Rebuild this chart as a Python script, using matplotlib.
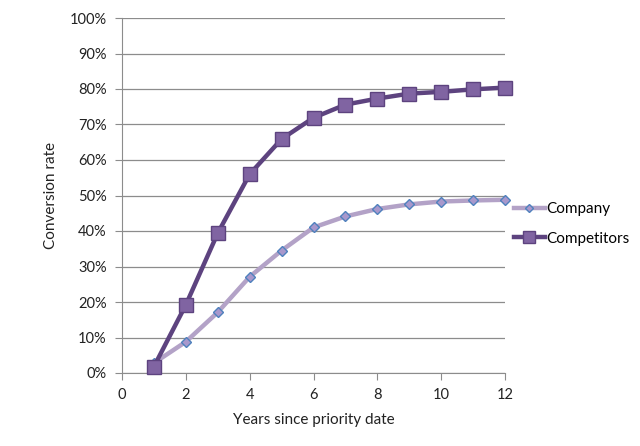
import numpy as np
import matplotlib.pyplot as plt
from matplotlib.ticker import PercentFormatter

plt.rcParams['font.family'] = ['Lato', 'DejaVu Sans']

years = [1, 2, 3, 4, 5, 6, 7, 8, 9, 10, 11, 12]
company = [2.8, 8.8, 17.1, 27.1, 34.5, 41.0, 44.1, 46.2, 47.5, 48.3, 48.6, 48.8]
competitors = [1.8, 19.2, 39.4, 56.0, 65.9, 71.9, 75.6, 77.3, 78.7, 79.2, 79.9, 80.4]

fig = plt.figure(figsize=(6.4, 4.46), dpi=100)
ax = fig.add_axes([122/640, 1-373/446, (505-122)/640, (373-18)/446])

ax.plot(years, company, color='#b3a2c7', lw=3.2, marker='D', ms=5.5,
        mfc='#a898cc', mec='#4f81bd', mew=1.0, label='Company', zorder=3,
        clip_on=False)
ax.plot(years, competitors, color='#5d437f', lw=3.2, marker='s', ms=10,
        mfc='#8064a2', mec='#5d437f', mew=1.0, label='Competitors', zorder=4,
        clip_on=False)

ax.set_xlim(0, 12)
ax.set_ylim(0, 100)
ax.set_xticks(np.arange(0, 13, 2))
ax.set_yticks(np.arange(0, 101, 10))
ax.yaxis.set_major_formatter(PercentFormatter(decimals=0))
ax.yaxis.grid(True, color='#8c8c8c', lw=0.9)
ax.set_axisbelow(True)
for s in ['top', 'right']:
    ax.spines[s].set_visible(False)
for s in ['left', 'bottom']:
    ax.spines[s].set_color('#8c8c8c')
ax.tick_params(axis='both', direction='out', length=5, color='#8c8c8c',
               labelsize=10.5, labelcolor='#222222', pad=6)

ax.set_xlabel('Years since priority date', fontsize=11, color='#222222', labelpad=8)
ax.set_ylabel('Conversion rate', fontsize=11, color='#222222', labelpad=8)

leg = ax.legend(loc='center left', bbox_to_anchor=(1.0, 0.42), frameon=False,
                fontsize=11, handlelength=2.0, handletextpad=0.1,
                labelspacing=1.0, borderaxespad=0.2, markerscale=0.8)

fig.savefig('out.png', dpi=100)
